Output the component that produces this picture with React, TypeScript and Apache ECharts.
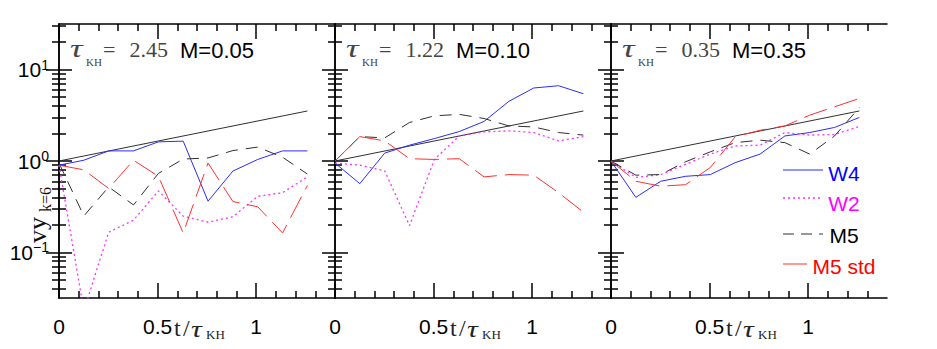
import { useEffect, useRef } from "react";
import * as echarts from "echarts";

// ---------- data ----------
const times = [0, 0.126, 0.252, 0.378, 0.504, 0.63, 0.756, 0.882, 1.008, 1.134, 1.26];
const refTimes = [0, 1.26];
const refValues = [1, 3.53];

const seriesNames = ["W4", "W2", "M5", "M5 std"];
const tauLabels = ["2.45", "1.22", "0.35"];
const machLabels = ["M=0.05", "M=0.10", "M=0.35"];

const w4Values = [
  [0.9, 1.02, 1.29, 1.29, 1.62, 1.65, 0.363, 0.776, 1.04, 1.29, 1.29],
  [0.95, 0.565, 1.22, 1.49, 1.76, 2.1, 2.71, 4.5, 6.3, 6.67, 5.45],
  [1.0, 0.4, 0.6, 0.68, 0.71, 0.96, 1.19, 1.88, 2.05, 2.33, 3.0],
];
const w2Values = [
  [0.9, 0.023, 0.166, 0.225, 0.47, 0.249, 0.214, 0.245, 0.41, 0.45, 0.67],
  [0.95, 0.9, 0.78, 0.196, 1.04, 1.88, 2.08, 2.14, 2.05, 1.66, 1.85],
  [1.0, 0.66, 0.71, 0.92, 1.19, 1.46, 1.49, 2.05, 1.92, 1.95, 2.39],
];
const m5Values = [
  [0.95, 0.25, 0.52, 0.33, 0.73, 1.05, 1.08, 1.3, 1.42, 1.1, 0.72],
  [1.0, 1.85, 1.79, 2.64, 3.12, 3.24, 2.92, 2.42, 2.36, 2.05, 1.92],
  [1.0, 0.7, 0.71, 0.98, 1.26, 1.59, 1.69, 1.59, 1.19, 1.88, 3.86],
];
const m5StdValues = [
  [0.9, 0.8, 0.5, 1.02, 0.68, 0.163, 0.95, 0.36, 0.315, 0.163, 0.54],
  [1.0, 1.85, 1.66, 1.06, 1.04, 1.06, 0.67, 0.71, 0.7, 0.45, 0.275],
  [1.0, 0.6, 0.53, 0.55, 0.85, 1.84, 2.17, 2.42, 3.18, 3.92, 4.85],
];

const xMajorTicks = [0, 0.5, 1];
const xMinorTicks = [0.1, 0.2, 0.3, 0.4, 0.6, 0.7, 0.8, 0.9, 1.1, 1.2, 1.3];
const yMajorTicks = [0.1, 1, 10];
const yMinorTicks = [
  0.04, 0.05, 0.06, 0.07, 0.08, 0.09,
  0.2, 0.3, 0.4, 0.5, 0.6, 0.7, 0.8, 0.9,
  2, 3, 4, 5, 6, 7, 8, 9,
  20, 30,
];
const xMin = 0;
const xMax = 1.4;
const yMin = Math.pow(10, -1.5);
const yMax = Math.pow(10, 1.5);

// ---------- layout & style ----------
const PANEL_LEFT = [59, 335, 611];
const PANEL_W = 276;
const PANEL_TOP = 24;
const PANEL_H = 274;
const SANS = '"Liberation Sans", Arial, Helvetica, sans-serif';
const SERIF = '"Liberation Serif", "DejaVu Serif", serif';

const lineStyles = [
  { color: "#2b2bff", type: "solid" as any, width: 1 },
  { color: "#ff30ff", type: [2, 3] as any, width: 1.3 },
  { color: "#303030", type: [12, 8] as any, width: 1 },
  { color: "#ff3030", type: [24, 8] as any, width: 1 },
];
const legendTextColors = ["#0000ff", "#ff00ff", "#000000", "#ff0000"];

const axisLineOn = { show: true, lineStyle: { color: "#000", width: 1.5 } };
const tickStyle = { color: "#000", width: 1.5 };

function buildXAxes(p: number) {
  const base = {
    gridIndex: p,
    type: "value",
    min: xMin,
    max: xMax,
    splitLine: { show: false },
    minorTick: { show: false },
  };
  return [
    {
      ...base,
      position: "bottom",
      axisLine: axisLineOn,
      axisTick: { show: true, inside: true, length: 15, customValues: xMajorTicks, lineStyle: tickStyle },
      axisLabel: {
        show: true,
        customValues: xMajorTicks,
        margin: 18,
        fontSize: 21,
        fontFamily: SANS,
        color: "#000",
        formatter: (v: number) => String(v),
      },
    },
    {
      ...base,
      position: "bottom",
      axisLine: { show: false },
      axisTick: { show: true, inside: true, length: 7, customValues: xMinorTicks, lineStyle: tickStyle },
      axisLabel: { show: false },
    },
    {
      ...base,
      position: "top",
      axisLine: axisLineOn,
      axisTick: { show: true, inside: true, length: 15, customValues: xMajorTicks, lineStyle: tickStyle },
      axisLabel: { show: false },
    },
    {
      ...base,
      position: "top",
      axisLine: { show: false },
      axisTick: { show: true, inside: true, length: 7, customValues: xMinorTicks, lineStyle: tickStyle },
      axisLabel: { show: false },
    },
  ];
}

function buildYAxes(p: number) {
  const base = {
    gridIndex: p,
    type: "log",
    logBase: 10,
    min: yMin,
    max: yMax,
    splitLine: { show: false },
    minorTick: { show: false },
  };
  const majorLabel =
    p === 0
      ? {
          show: true,
          customValues: yMajorTicks,
          margin: 10,
          formatter: (v: number) => {
            const e = Math.round(Math.log10(v));
            return `{b|10}{s|${e < 0 ? "\u2212" + -e : e}}`;
          },
          rich: {
            b: { fontSize: 21, fontFamily: SANS, color: "#000", lineHeight: 24 },
            s: { fontSize: 14, fontFamily: SANS, color: "#000", lineHeight: 14, verticalAlign: "top" },
          },
        }
      : { show: false };
  return [
    {
      ...base,
      position: "left",
      axisLine: axisLineOn,
      axisTick: { show: true, inside: true, length: 13, customValues: yMajorTicks, lineStyle: tickStyle },
      axisLabel: majorLabel,
    },
    {
      ...base,
      position: "left",
      axisLine: { show: false },
      axisTick: { show: true, inside: true, length: 7, customValues: yMinorTicks, lineStyle: tickStyle },
      axisLabel: { show: false },
    },
    {
      ...base,
      position: "right",
      axisLine: axisLineOn,
      axisTick: { show: true, inside: true, length: 13, customValues: yMajorTicks, lineStyle: tickStyle },
      axisLabel: { show: false },
    },
    {
      ...base,
      position: "right",
      axisLine: { show: false },
      axisTick: { show: true, inside: true, length: 7, customValues: yMinorTicks, lineStyle: tickStyle },
      axisLabel: { show: false },
    },
  ];
}

function buildOption() {
  const panelValues = [w4Values, w2Values, m5Values, m5StdValues];
  const grid: any[] = [];
  const xAxis: any[] = [];
  const yAxis: any[] = [];
  const series: any[] = [];
  const graphic: any[] = [];

  for (let p = 0; p < 3; p++) {
    const L = PANEL_LEFT[p];
    grid.push({ left: L, top: PANEL_TOP, width: PANEL_W, height: PANEL_H, outerBoundsMode: "none", containLabel: false });
    xAxis.push(...buildXAxes(p));
    yAxis.push(...buildYAxes(p));

    series.push({
      type: "line",
      name: "ref" + p,
      xAxisIndex: p * 4,
      yAxisIndex: p * 4,
      data: refTimes.map((t, i) => [t, refValues[i]]),
      symbol: "none",
      lineStyle: { color: "#303030", width: 1 },
      silent: true,
      clip: true,
    });
    for (let k = 0; k < 4; k++) {
      series.push({
        type: "line",
        name: seriesNames[k],
        xAxisIndex: p * 4,
        yAxisIndex: p * 4,
        data: times.map((t, i) => [t, panelValues[k][p][i]]),
        symbol: "none",
        lineStyle: lineStyles[k],
        silent: true,
        clip: true,
      });
    }

    // title: tau_KH = value   M=...
    graphic.push(
      { type: "text", x: L + 11, y: 48.5, scaleX: 1.35, style: { text: "\u03c4", fontSize: 26, fontStyle: "italic", fontFamily: SERIF, fill: "#444", align: "left", verticalAlign: "middle" } },
      { type: "text", x: L + 27, y: 62, style: { text: "KH", fontSize: 11, fontFamily: SERIF, fill: "#444", align: "left", verticalAlign: "middle" } },
      { type: "text", x: L + 44, y: 49.5, style: { text: "=", fontSize: 22, fontFamily: SERIF, fill: "#444", align: "left", verticalAlign: "middle" } },
      { type: "text", x: L + 109, y: 49.5, style: { text: tauLabels[p], fontSize: 22, fontFamily: SERIF, fill: "#444", align: "right", verticalAlign: "middle" } },
      { type: "text", x: L + 195, y: 50, style: { text: machLabels[p], fontSize: 22, fontFamily: SANS, fill: "#000", align: "right", verticalAlign: "middle" } },
      // x axis name t / tau_KH
      { type: "text", x: L + 115, y: 328, style: { text: "t", fontSize: 24, fontFamily: SERIF, fill: "#222", align: "left", verticalAlign: "middle" } },
      { type: "text", x: L + 124, y: 328, style: { text: "/", fontSize: 24, fontFamily: SERIF, fill: "#222", align: "left", verticalAlign: "middle" } },
      { type: "text", x: L + 132, y: 329, scaleX: 1.25, style: { text: "\u03c4", fontSize: 24, fontStyle: "italic", fontFamily: SERIF, fill: "#222", align: "left", verticalAlign: "middle" } },
      { type: "text", x: L + 147, y: 334.5, style: { text: "KH", fontSize: 13, fontFamily: SERIF, fill: "#222", align: "left", verticalAlign: "middle" } }
    );
  }

  // y axis name
  graphic.push(
    { type: "text", x: 37, y: 230, rotation: Math.PI / 2, style: { text: "vy", fontSize: 26, fontFamily: SERIF, fill: "#111", align: "center", verticalAlign: "middle" } },
    { type: "text", x: 45, y: 199.5, rotation: Math.PI / 2, style: { text: "k=6", fontSize: 16, fontFamily: SERIF, fill: "#111", align: "center", verticalAlign: "middle" } }
  );

  // legend
  const legendLineY = [170, 198, 234, 264];
  const legendTextY = [173, 203, 235.5, 266];
  const legendLineEnd = [823, 823, 823, 813];
  for (let k = 0; k < 4; k++) {
    graphic.push({
      type: "line",
      shape: { x1: 783, y1: legendLineY[k], x2: legendLineEnd[k], y2: legendLineY[k] },
      style: { stroke: lineStyles[k].color, lineWidth: lineStyles[k].width, lineDash: k === 0 ? null : k === 2 ? [11, 7] : lineStyles[k].type },
    });
    graphic.push({
      type: "text",
      x: 844,
      y: legendTextY[k],
      style: { text: seriesNames[k], fontSize: 21, fontFamily: SANS, fill: legendTextColors[k], align: "center", verticalAlign: "middle" },
    });
  }

  return {
    animation: false,
    backgroundColor: "#ffffff",
    grid,
    xAxis,
    yAxis,
    series,
    graphic,
  };
}

export default function App() {
  const ref = useRef<HTMLDivElement>(null);
  useEffect(() => {
    if (!ref.current) return;
    const chart = echarts.init(ref.current, null, { renderer: "svg" });
    chart.setOption(buildOption() as any);
    return () => chart.dispose();
  }, []);
  return (
    <div
      ref={ref}
      style={{ position: "fixed", left: 0, top: 0, width: 937, height: 349, background: "#fff" }}
    />
  );
}
